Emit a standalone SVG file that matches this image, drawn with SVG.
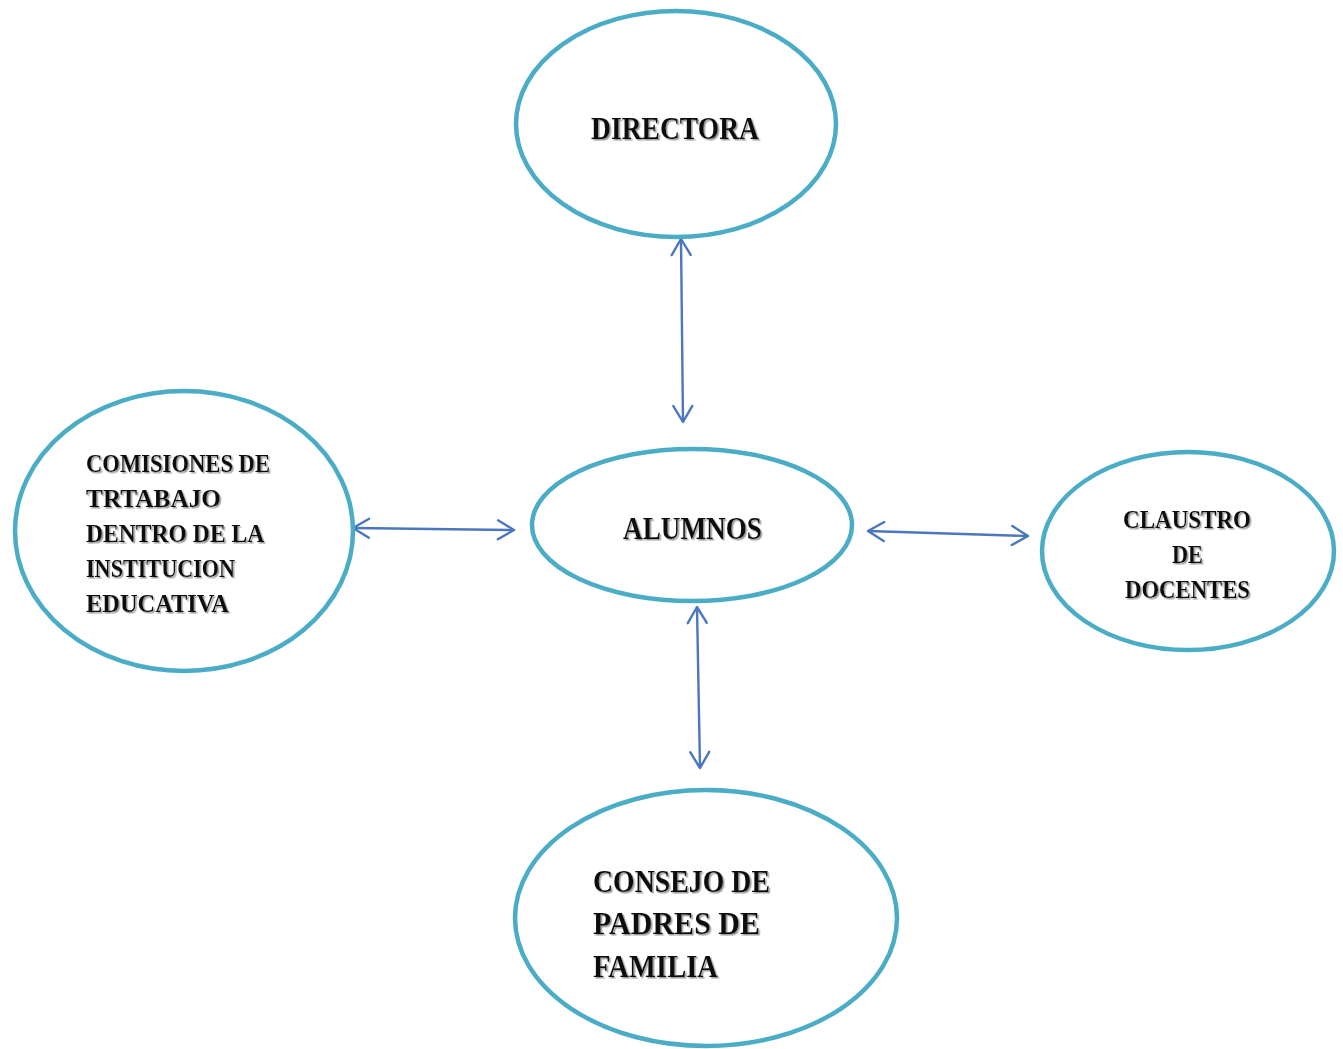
<svg xmlns="http://www.w3.org/2000/svg" width="1343" height="1049" viewBox="0 0 1343 1049">
<style>
.node{fill:#fff;stroke:#4BACC6;stroke-width:4.5}
.lbl{font-family:"Liberation Serif","DejaVu Serif",serif;font-weight:bold;fill:#111;filter:url(#sh)}
.con{stroke:#4A77BE;stroke-width:2.4;fill:none;marker-start:url(#ah);marker-end:url(#ah)}
</style>
<defs>
<filter id="sh" x="-10%" y="-30%" width="130%" height="160%">
<feDropShadow dx="1.5" dy="1.5" stdDeviation="0.4" flood-color="#9a9a9a" flood-opacity="1"/>
</filter>
<marker id="ah" viewBox="0 0 24 24" refX="21" refY="12" markerWidth="24" markerHeight="24" markerUnits="userSpaceOnUse" orient="auto-start-reverse">
<path d="M5,2.5 L21,12 L5,21.5" fill="none" stroke="#4A77BE" stroke-width="2.4" stroke-linecap="round" stroke-linejoin="round"/>
</marker>
</defs>
<rect width="1343" height="1049" fill="#fff"/>
<g id="connectors">
<line class="con" x1="681" y1="239" x2="683" y2="422"/>
<line class="con" x1="353" y1="528" x2="514" y2="530"/>
<line class="con" x1="868" y1="531" x2="1028" y2="536"/>
<line class="con" x1="697" y1="607" x2="700" y2="768"/>
</g>
<g id="directora">
<ellipse class="node" cx="676" cy="124" rx="160" ry="113"/>
<text class="lbl" x="591" y="139" font-size="31" textLength="168" lengthAdjust="spacingAndGlyphs">DIRECTORA</text>
</g>
<g id="alumnos">
<ellipse class="node" cx="692" cy="525" rx="160" ry="76"/>
<text class="lbl" x="623" y="539" font-size="31" textLength="139" lengthAdjust="spacingAndGlyphs">ALUMNOS</text>
</g>
<g id="comisiones">
<ellipse class="node" cx="184" cy="531" rx="169" ry="140"/>
<text class="lbl" font-size="26">
<tspan x="86" y="472" textLength="184" lengthAdjust="spacingAndGlyphs">COMISIONES DE</tspan>
<tspan x="86" y="507" textLength="135" lengthAdjust="spacingAndGlyphs">TRTABAJO</tspan>
<tspan x="86" y="542" textLength="177" lengthAdjust="spacingAndGlyphs">DENTRO DE LA</tspan>
<tspan x="86" y="577" textLength="149" lengthAdjust="spacingAndGlyphs">INSTITUCION</tspan>
<tspan x="86" y="612" textLength="143" lengthAdjust="spacingAndGlyphs">EDUCATIVA</tspan>
</text>
</g>
<g id="claustro">
<ellipse class="node" cx="1188" cy="551" rx="146" ry="99"/>
<text class="lbl" font-size="26">
<tspan x="1123" y="528" textLength="128" lengthAdjust="spacingAndGlyphs">CLAUSTRO</tspan>
<tspan x="1172" y="563" textLength="31" lengthAdjust="spacingAndGlyphs">DE</tspan>
<tspan x="1125" y="598" textLength="125" lengthAdjust="spacingAndGlyphs">DOCENTES</tspan>
</text>
</g>
<g id="consejo">
<ellipse class="node" cx="706" cy="918" rx="191" ry="128"/>
<text class="lbl" font-size="32">
<tspan x="593" y="892" textLength="177" lengthAdjust="spacingAndGlyphs">CONSEJO DE</tspan>
<tspan x="593" y="934" textLength="167" lengthAdjust="spacingAndGlyphs">PADRES DE</tspan>
<tspan x="593" y="977" textLength="125" lengthAdjust="spacingAndGlyphs">FAMILIA</tspan>
</text>
</g>
</svg>
